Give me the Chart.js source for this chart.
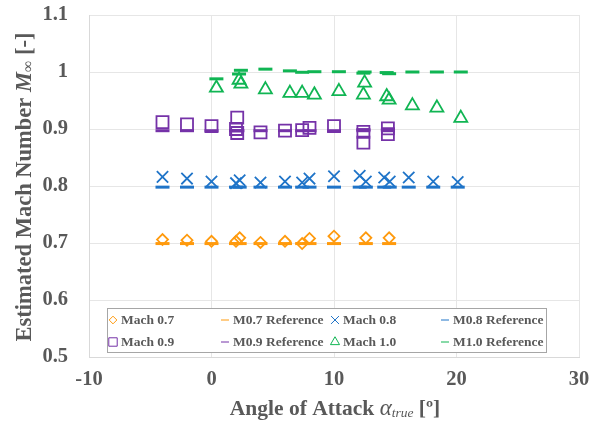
<!DOCTYPE html>
<html>
<head>
<meta charset="utf-8">
<script src="https://cdn.jsdelivr.net/npm/chart.js@4.4.0/dist/chart.umd.min.js"></script>
<style>
html, body { margin: 0; padding: 0; background: #fff; }
</style>
</head>
<body>
<canvas id="myChart" width="606" height="430"></canvas>
<script>
// Mach 0.7
let m07x = [-4, -2, 0, 2.0, 2.3, 4, 6, 7.4, 8.0, 10, 12.6, 14.5];
let m07y = [0.706, 0.705, 0.703, 0.703, 0.709, 0.701, 0.703, 0.699, 0.708, 0.712, 0.709, 0.709];
let m07ref = [0.699, 0.699, 0.699, 0.699, 0.699, 0.699, 0.699, 0.699, 0.699, 0.699, 0.699, 0.699];
// Mach 0.8
let m08x = [-4, -2, 0, 2.0, 2.3, 4, 6, 7.4, 8.0, 10, 12.1, 12.6, 14.1, 14.55, 16.1, 18.1, 20.1];
let m08y = [0.816, 0.813, 0.808, 0.805, 0.81, 0.806, 0.808, 0.806, 0.813, 0.817, 0.818, 0.808, 0.815, 0.808, 0.815, 0.808, 0.807];
let m08ref = [0.798, 0.798, 0.798, 0.798, 0.798, 0.798, 0.798, 0.798, 0.798, 0.798, 0.798, 0.798, 0.798, 0.798, 0.798, 0.798, 0.798];
// Mach 0.9
let m09x = [-4, -2, 0, 2.1, 2.0, 2.1, 4, 6, 7.4, 8.0, 10, 12.4, 12.4, 14.4, 14.4];
let m09y = [0.912, 0.908, 0.905, 0.92, 0.9, 0.893, 0.894, 0.897, 0.898, 0.902, 0.905, 0.895, 0.876, 0.901, 0.891];
let m09ref = [0.897, 0.897, 0.897, 0.897, 0.897, 0.897, 0.897, 0.897, 0.897, 0.897, 0.897, 0.899, 0.897, 0.899, 0.897];
// Mach 1.0
let m10x = [0.4, 2.25, 2.4, 4.4, 6.4, 7.4, 8.4, 10.4, 12.5, 12.4, 14.3, 14.5, 16.4, 18.4, 20.35];
let m10y = [0.972, 0.986, 0.979, 0.969, 0.963, 0.963, 0.960, 0.966, 0.981, 0.960, 0.957, 0.951, 0.941, 0.937, 0.919];
let m10ref = [0.988, 0.9965, 1.003, 1.005, 1.002, 0.9995, 1.0005, 1.0005, 1.0, 0.998, 0.999, 0.997, 1.0, 1.0, 1.0];

let xTicks = [-10, 0, 10, 20, 30];
let yTicks = [0.5, 0.6, 0.7, 0.8, 0.9, 1, 1.1];

let orange = '#FF9A0D';
let blue = '#1F74C8';
let purple = '#7532A8';
let green = '#10B553';
let grey = '#595959';
let serif = '"Liberation Serif", "Times New Roman", serif';

function pts(xs, ys){
    return xs.map(function(x, i){ return {x: x, y: ys[i]}; });
}

function markerSet(label, xs, ys, color, style, radius){
    return {
        label: label,
        data: pts(xs, ys),
        showLine: false,
        pointStyle: style,
        pointRadius: radius,
        pointBorderWidth: 1.8,
        borderColor: color,
        backgroundColor: 'rgba(0,0,0,0)',
        pointHoverRadius: radius
    };
}

function refSet(label, xs, ys, color){
    return {
        label: label,
        data: pts(xs, ys),
        showLine: false,
        pointStyle: 'line',
        pointRadius: 7,
        pointBorderWidth: 3,
        borderColor: color,
        backgroundColor: color
    };
}

let datasets = [
    markerSet('Mach 0.7', m07x, m07y, orange, 'rectRot', 5.5),
    refSet('M0.7 Reference', m07x, m07ref, orange),
    markerSet('Mach 0.8', m08x, m08y, blue, 'crossRot', 8),
    refSet('M0.8 Reference', m08x, m08ref, blue),
    markerSet('Mach 0.9', m09x, m09y, purple, 'rect', 8.5),
    refSet('M0.9 Reference', m09x, m09ref, purple),
    markerSet('Mach 1.0', m10x, m10y, green, 'triangle', 7.5),
    refSet('M1.0 Reference', m10x, m10ref, green)
];

// legend inside the plot, 4 columns x 2 rows
let legendPlugin = {
    id: 'boxLegend',
    afterDraw: function(chart){
        let ctx = chart.ctx;
        let bx = 107, by = 308, bw = 439, bh = 44;
        ctx.save();
        ctx.fillStyle = '#fff';
        ctx.fillRect(bx, by, bw, bh);
        ctx.strokeStyle = '#a6a6a6';
        ctx.lineWidth = 1;
        ctx.strokeRect(bx + 0.5, by + 0.5, bw, bh);
        let colX = [113, 225, 335, 445];
        let rowY = [320, 342];
        ctx.font = 'bold 13.5px ' + serif;
        ctx.fillStyle = grey;
        ctx.textBaseline = 'middle';
        chart.data.datasets.forEach(function(ds, i){
            let col = i % 4;
            let row = Math.floor(i / 4);
            let x = colX[col], y = rowY[row];
            let r = ds.pointStyle === 'line' ? 4 : ds.pointRadius * 0.7;
            ctx.strokeStyle = ds.borderColor;
            ctx.fillStyle = ds.backgroundColor;
            Chart.helpers.drawPoint(ctx, {
                pointStyle: ds.pointStyle,
                rotation: 0,
                borderWidth: ds.pointStyle === 'line' ? 2.5 : 1.8,
                radius: r
            }, x, y);
            ctx.fillStyle = grey;
            ctx.fillText(ds.label, x + 8, y + 1);
        });
        ctx.restore();
    }
};

function drawRich(ctx, parts, cx, cy){
    let total = 0;
    parts.forEach(function(p){
        ctx.font = p.font;
        p.w = ctx.measureText(p.text).width;
        total += p.w;
    });
    let x = cx - total / 2;
    parts.forEach(function(p){
        ctx.font = p.font;
        ctx.fillText(p.text, x, cy + (p.dy || 0));
        x += p.w;
    });
}

let titlePlugin = {
    id: 'axisTitles',
    afterDraw: function(chart){
        let ctx = chart.ctx;
        ctx.save();
        ctx.fillStyle = grey;
        ctx.textBaseline = 'alphabetic';
        drawRich(ctx, [
            {text: 'Angle of Attack ', font: 'bold 21.5px ' + serif},
            {text: 'α', font: 'italic 23px ' + serif},
            {text: 'true', font: 'italic 13.5px ' + serif, dy: 2},
            {text: ' [º]', font: 'bold 21.5px ' + serif}
        ], 335, 415);
        ctx.translate(31, 187);
        ctx.rotate(-Math.PI / 2);
        drawRich(ctx, [
            {text: 'Estimated Mach Number ', font: 'bold 22.5px ' + serif},
            {text: 'M', font: 'bold italic 22.5px ' + serif},
            {text: '∞', font: '16px ' + serif, dy: 2},
            {text: ' [-]', font: 'bold 22.5px ' + serif}
        ], 0, 0);
        ctx.restore();
    }
};

let config = {
    type: 'scatter',
    data: { datasets: datasets },
    options: {
        responsive: false,
        animation: false,
        layout: { padding: { left: 0, top: 15, right: 27, bottom: 0 } },
        plugins: {
            legend: { display: false },
            tooltip: { enabled: false }
        },
        scales: {
            x: {
                type: 'linear',
                min: -10,
                max: 30,
                afterBuildTicks: function(scale){
                    scale.ticks = xTicks.map(function(v){ return {value: v}; });
                },
                afterFit: function(scale){
                    scale.height = 73;
                    scale.paddingLeft = 0;
                    scale.paddingRight = 0;
                },
                grid: { color: '#e6e6e6', drawTicks: false },
                border: { color: '#d9d9d9' },
                ticks: {
                    padding: 10,
                    color: grey,
                    font: { family: serif, size: 20.5, weight: 'bold' }
                }
            },
            y: {
                type: 'linear',
                min: 0.5,
                max: 1.1,
                afterBuildTicks: function(scale){
                    scale.ticks = yTicks.map(function(v){ return {value: v}; });
                },
                afterFit: function(scale){
                    scale.width = 89;
                    scale.paddingTop = 0;
                    scale.paddingBottom = 0;
                },
                grid: { color: '#e6e6e6', drawTicks: false },
                border: { color: '#d9d9d9' },
                ticks: {
                    padding: 21,
                    color: grey,
                    font: { family: serif, size: 20.5, weight: 'bold' },
                    callback: function(v){ return String(Math.round(v * 10) / 10); }
                }
            }
        }
    },
    plugins: [legendPlugin, titlePlugin]
};

let myChart = new Chart(document.getElementById('myChart'), config);
</script>
</body>
</html>
